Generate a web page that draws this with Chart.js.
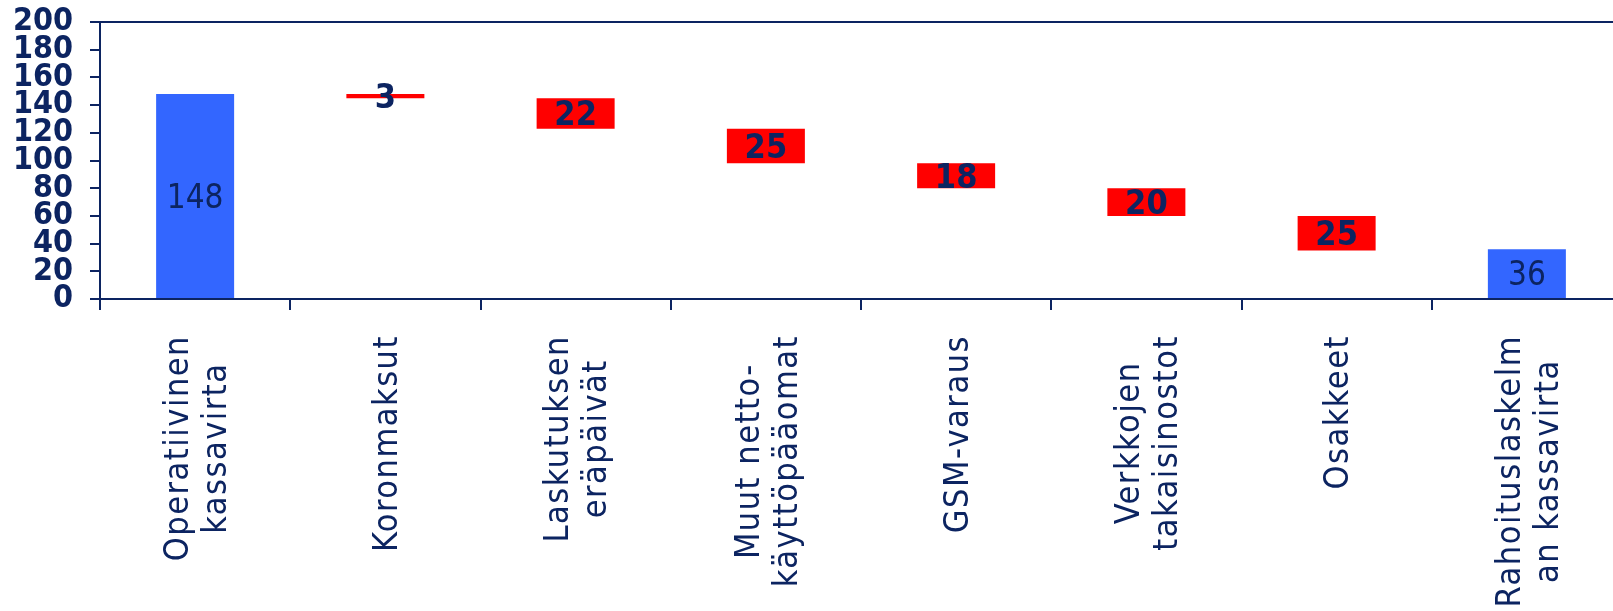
<!DOCTYPE html>
<html lang="fi">
<head>
    <meta charset="UTF-8">
    <title>Kassavirta</title>
    <style>
        body, html {
            margin: 0;
            padding: 0;
            background: #fff;
            overflow: hidden;
        }
        #chart {
            width: 1622px;
            height: 611px;
        }
    </style>
</head>
<body>
<div id="chart">
    <canvas id="myChart"></canvas>
</div>

<script src="https://cdn.jsdelivr.net/npm/chart.js"></script>
<script type="text/javascript">
    // kategoriat (rivitetty kuten alkuperäisessä)
    var categories = [
        ['Operatiivinen', 'kassavirta'],
        ['Koronmaksut'],
        ['Laskutuksen', 'eräpäivät'],
        ['Muut netto-', 'käyttöpääomat'],
        ['GSM-varaus'],
        ['Verkkojen', 'takaisinostot'],
        ['Osakkeet'],
        ['Rahoituslaskelm', 'an kassavirta']
    ];
    // vesiputouksen palkkien ala- ja yläreunat
    var barStart = [0, 145, 123, 98, 80, 60, 35, 0];
    var barEnd = [148, 148, 145, 123, 98, 80, 60, 36];
    // palkkien päällä näkyvät luvut
    var shownValues = [148, 3, 22, 25, 18, 20, 25, 36];
    var isTotal = [true, false, false, false, false, false, false, true];
    var yMin = 0, yMax = 200, yStep = 20;

    var navy = '#0c2461';
    var blue = '#3366ff';
    var red = '#ff0000';
    var condensed = '"DejaVu Sans Condensed", "DejaVu Sans"';

    var floating = barStart.map(function(s, i) { return [s, barEnd[i]]; });

    // ylälaidan viiva
    var framePlugin = {
        id: 'frame',
        afterDraw: function(chart) {
            var a = chart.chartArea, ctx = chart.ctx;
            ctx.save();
            ctx.strokeStyle = navy;
            ctx.lineWidth = 2;
            ctx.beginPath();
            ctx.moveTo(a.left, a.top);
            ctx.lineTo(a.right + 5, a.top);
            ctx.stroke();
            ctx.restore();
        }
    };

    // luvut palkkien keskelle
    var valuePlugin = {
        id: 'values',
        afterDatasetsDraw: function(chart) {
            var ctx = chart.ctx;
            var meta = chart.getDatasetMeta(0);
            ctx.save();
            ctx.textAlign = 'center';
            ctx.textBaseline = 'middle';
            ctx.fillStyle = navy;
            meta.data.forEach(function(bar, i) {
                var p = bar.getProps(['x', 'y', 'base'], true);
                var cy = (p.y + p.base) / 2;
                ctx.font = isTotal[i] ? '33px ' + condensed : 'bold 34px ' + condensed;
                ctx.fillText(String(shownValues[i]), p.x, cy + 3);
            });
            ctx.restore();
        }
    };

    // pystyyn käännetyt kategorianimet
    var xLabelPlugin = {
        id: 'xlabels',
        afterDraw: function(chart) {
            var ctx = chart.ctx;
            var xs = chart.scales.x;
            var top = chart.chartArea.bottom + 36;
            var lineH = 38;
            ctx.save();
            ctx.font = '34px ' + condensed;
            ctx.letterSpacing = '1.5px';
            ctx.fillStyle = navy;
            ctx.textAlign = 'center';
            ctx.textBaseline = 'middle';
            categories.forEach(function(lines, i) {
                var x = xs.getPixelForValue(i) + 3;
                var maxW = 0;
                lines.forEach(function(l) { maxW = Math.max(maxW, ctx.measureText(l).width); });
                ctx.save();
                ctx.translate(x, top + maxW / 2);
                ctx.rotate(-Math.PI / 2);
                lines.forEach(function(l, j) {
                    ctx.fillText(l, 0, (j - (lines.length - 1) / 2) * lineH);
                });
                ctx.restore();
            });
            ctx.restore();
        }
    };

    var ctx = document.getElementById('myChart').getContext('2d');
    window.myChart = new Chart(ctx, {
        type: 'bar',
        data: {
            labels: categories,
            datasets: [{
                data: floating,
                backgroundColor: isTotal.map(function(t) { return t ? blue : red; }),
                borderWidth: 0,
                categoryPercentage: 1,
                barPercentage: 0.41
            }]
        },
        options: {
            responsive: true,
            maintainAspectRatio: false,
            animation: false,
            layout: { padding: { top: 22, right: 0, left: 0, bottom: 0 } },
            plugins: {
                legend: { display: false },
                tooltip: { enabled: false }
            },
            scales: {
                x: {
                    offset: true,
                    grid: {
                        offset: true,
                        drawOnChartArea: false,
                        drawTicks: true,
                        tickLength: 11,
                        color: navy,
                        lineWidth: 2
                    },
                    border: { color: navy, width: 2 },
                    ticks: { display: false },
                    afterFit: function(scale) { scale.height = 312; }
                },
                y: {
                    min: yMin,
                    max: yMax,
                    grid: {
                        drawOnChartArea: false,
                        tickLength: 10,
                        color: navy,
                        lineWidth: 2
                    },
                    border: { color: navy, width: 2 },
                    ticks: {
                        stepSize: yStep,
                        autoSkip: false,
                        padding: 17,
                        color: navy,
                        font: { family: condensed, size: 32, weight: 'bold', lineHeight: 1 }
                    },
                    afterFit: function(scale) {
                        scale.width = 100;
                        scale.paddingTop = 0;
                        scale.paddingBottom = 0;
                    }
                }
            }
        },
        plugins: [framePlugin, valuePlugin, xLabelPlugin]
    });
</script>
</body>
</html>
